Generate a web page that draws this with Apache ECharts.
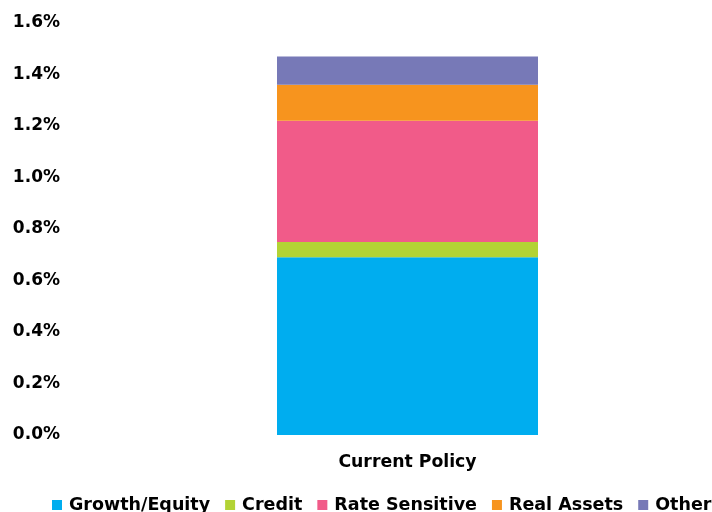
<!DOCTYPE html>
<html><head><meta charset="utf-8">
<script src="https://cdn.jsdelivr.net/npm/echarts@6/dist/echarts.min.js"></script>
<style>html,body{margin:0;padding:0;background:#fff}#c{width:712px;height:512px}</style>
</head><body><div id="c"></div>
<script>
const categories = ["Current Policy"];
const seriesNames = ["Growth/Equity", "Credit", "Rate Sensitive", "Real Assets", "Other"];
const growthEquity = [0.69];
const credit = [0.06];
const rateSensitive = [0.47];
const realAssets = [0.14];
const other = [0.11];
const colors = ["#00ADEF", "#B3D335", "#F15B89", "#F7941E", "#7779B7"];
const values = [growthEquity, credit, rateSensitive, realAssets, other];
const font = "DejaVu Sans";
const chart = echarts.init(document.getElementById('c'));
chart.setOption({
  animation: false,
  grid: {left: 103, right: 0, top: 23, bottom: 77, containLabel: false},
  legend: {
    left: 52, top: 496, width: 720, padding: 0, itemWidth: 10, itemHeight: 10, itemGap: 15,
    icon: 'rect',
    textStyle: {fontFamily: font, fontWeight: 'bold', fontSize: 17.5, color: '#000', padding: [0, 0, 0, 2]},
    data: seriesNames
  },
  xAxis: {
    type: 'category', data: categories,
    axisLine: {show: false}, axisTick: {show: false},
    axisLabel: {fontFamily: font, fontWeight: 'bold', fontSize: 17.3, color: '#000', margin: 19}
  },
  yAxis: {
    type: 'value', min: 0, max: 1.6, interval: 0.2,
    splitLine: {show: false}, axisLine: {show: false}, axisTick: {show: false},
    axisLabel: {fontFamily: font, fontWeight: 'bold', fontSize: 17, color: '#000', margin: 43,
      formatter: v => v.toFixed(1) + '%'}
  },
  series: seriesNames.map((n, i) => ({
    name: n, type: 'bar', stack: 'total', data: values[i], barWidth: 261,
    itemStyle: {color: colors[i]}
  }))
});
</script></body></html>
